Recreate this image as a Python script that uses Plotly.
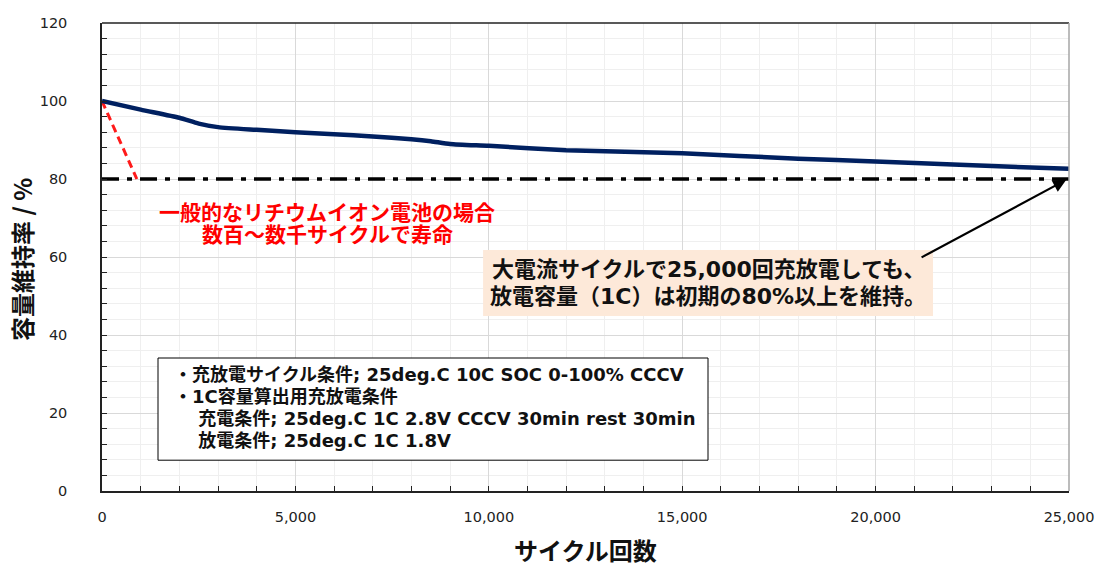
import plotly.graph_objects as go

# Data
cycles = [0, 1000, 2000, 2500, 3000, 4000, 5000, 6000, 7000, 8000, 8500, 9000,
          10000, 12000, 15000, 18000, 20000, 22000, 25000]
retention = [100, 97.8, 95.7, 94.2, 93.3, 92.6, 92.0, 91.5, 90.9, 90.2, 89.7, 89.0,
             88.5, 87.4, 86.6, 85.2, 84.5, 83.7, 82.6]
general_x = [0, 900]
general_y = [100, 80]
threshold_x = [0, 25000]
threshold_y = [80, 80]

x_tickvals = [0, 5000, 10000, 15000, 20000, 25000]
x_ticktext = ["0", "5,000", "10,000", "15,000", "20,000", "25,000"]

red_text = ["一般的なリチウムイオン電池の場合", "数百～数千サイクルで寿命"]
note_text = ["大電流サイクルで25,000回充放電しても、", "放電容量（1C）は初期の80%以上を維持。"]
cond_text = ["・充放電サイクル条件; 25deg.C 10C SOC 0-100% CCCV",
             "・1C容量算出用充放電条件",
             "　 充電条件; 25deg.C 1C 2.8V CCCV 30min rest 30min",
             "　 放電条件; 25deg.C 1C 1.8V"]
x_title = "サイクル回数"
y_title = "容量維持率 / %"

FONT = "DejaVu Sans, Noto Sans CJK JP, sans-serif"
JFONT = "Noto Sans CJK JP, sans-serif"

fig = go.Figure()
fig.add_trace(go.Scatter(x=threshold_x, y=threshold_y, mode="lines",
                         line=dict(color="black", width=3.5, dash="17px,8px,5px,8px"),
                         hoverinfo="skip", showlegend=False))
fig.add_trace(go.Scatter(x=general_x, y=general_y, mode="lines",
                         line=dict(color="#ff1a1a", width=3, dash="8px,5px"),
                         showlegend=False))
fig.add_trace(go.Scatter(x=cycles, y=retention, mode="lines",
                         line=dict(color="#002060", width=4.5, shape="spline", smoothing=0.6),
                         showlegend=False))

shapes = [
    dict(type="line", xref="paper", yref="paper", x0=0, x1=1, y0=1, y1=1,
         line=dict(color="#222", width=1.5)),
    dict(type="line", xref="paper", yref="paper", x0=1, x1=1, y0=0, y1=1,
         line=dict(color="#a6a6a6", width=1.5)),
    dict(type="rect", xref="x", yref="y", x0=1448, x1=15667, y0=7.9, y1=34.1,
         fillcolor="white", line=dict(color="black", width=1), layer="above"),
    dict(type="rect", xref="x", yref="y", x0=9852, x1=21484, y0=44.9, y1=61.8,
         fillcolor="#fde9d9", line=dict(width=0), layer="above"),
]

annotations = []
annotations.append(dict(x=24930, y=79.8, ax=21150, ay=59.7, xref="x", yref="y",
                        axref="x", ayref="y", showarrow=True, arrowhead=2,
                        arrowsize=1.2, arrowwidth=2.2, arrowcolor="black", text=""))
for i, t in enumerate(red_text):
    annotations.append(dict(x=5817, y=71.8 - i * 5.6, xref="x", yref="y", text=t,
                            showarrow=False, xanchor="center", yanchor="middle",
                            font=dict(family=JFONT, size=21, color="#ff0000", weight="bold")))
for i, t in enumerate(note_text):
    annotations.append(dict(x=15667, y=56.7 - i * 6.7, xref="x", yref="y", text=t,
                            showarrow=False, xanchor="center", yanchor="middle",
                            font=dict(family=FONT, size=22, color="#111", weight="bold")))
for i, t in enumerate(cond_text):
    annotations.append(dict(x=1810, y=30.0 - i * 5.65, xref="x", yref="y", text=t,
                            showarrow=False, xanchor="left", yanchor="middle",
                            font=dict(family=FONT, size=18, color="#111", weight="bold")))
# axis titles
annotations.append(dict(x=0.5, y=-0.1248, xref="paper", yref="paper", text=x_title,
                        showarrow=False, xanchor="center", yanchor="middle",
                        font=dict(family=JFONT, size=24, color="#111", weight="bold")))
annotations.append(dict(x=-0.0827, y=0.4936, xref="paper", yref="paper", text=y_title,
                        showarrow=False, xanchor="center", yanchor="middle", textangle=-90,
                        font=dict(family=JFONT, size=24, color="#111", weight="bold")))

fig.update_layout(
    width=1096, height=565,
    margin=dict(l=102, r=27, t=23, b=74, autoexpand=False),
    paper_bgcolor="white", plot_bgcolor="white",
    shapes=shapes, annotations=annotations,
    font=dict(family=FONT, size=15, color="#222"),
    xaxis=dict(range=[0, 25000], tickvals=x_tickvals, ticktext=x_ticktext,
               automargin=False,
               showgrid=True, gridcolor="#d9d9d9", gridwidth=1,
               showline=True, linecolor="#222", linewidth=1.5,
               ticks="inside", ticklen=5, tickcolor="#222",
               minor=dict(dtick=1000, showgrid=True, gridcolor="#efefef",
                          ticks="inside", ticklen=5, tickcolor="#222"),
               zeroline=False, tickfont=dict(size=14.5, color="#222"),
               ticklabelstandoff=12),
    yaxis=dict(range=[0, 120], dtick=20, automargin=False,
               showgrid=True, gridcolor="#d9d9d9", gridwidth=1,
               showline=True, linecolor="#222", linewidth=1.5,
               ticks="inside", ticklen=5, tickcolor="#222",
               minor=dict(dtick=4, showgrid=True, gridcolor="#efefef",
                          ticks="inside", ticklen=5, tickcolor="#222"),
               zeroline=False, tickfont=dict(size=14.5, color="#222"),
               ticklabelstandoff=30),
)

fig.write_html("out.html", config={"displayModeBar": False},
               post_script="document.body.style.margin='0';document.body.style.overflow='hidden';")
